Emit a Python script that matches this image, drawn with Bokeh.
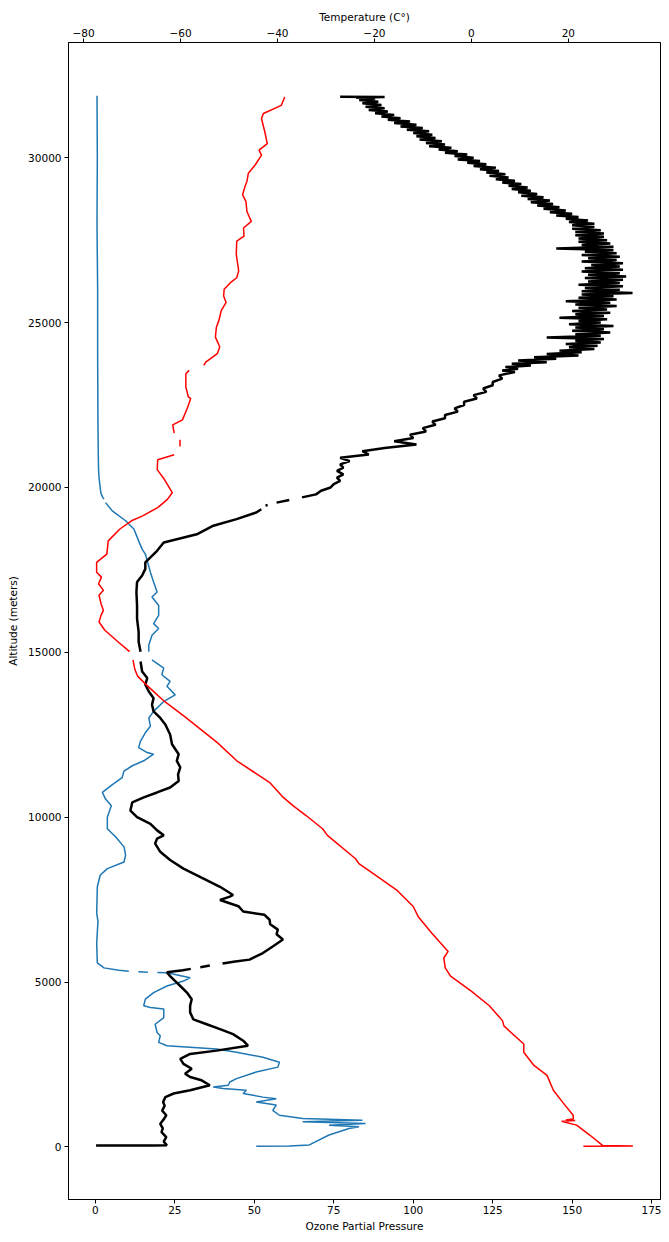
import numpy as np
from bokeh.plotting import figure
from bokeh.models import Range1d, LinearAxis, FixedTicker
from bokeh.embed import file_html
from bokeh.resources import INLINE

nan = float("nan")

# ---------------- Ozone partial pressure (black, bottom axis) ----------------
ozone_alt_low = [
    40, 45, 50, 160, 300, 450, 560, 700, 850, 960,
    1100, 1250, 1360, 1510, 1620, 1720, 1870, 2020, 2120, 2220,
    2370, 2520, 2670, 2820, 2920, 3070, 3220, 3420, 3570, 3720,
    3870, 4080, 4280, 4480, 4680, 4880, 5030, 5180, 5300, 5360,
    5400, 5420, 5450, 5500, 5530, 5560, 5620, 5680, 5880, 6080,
    6290, 6450, 6590, 6750, 6890, 7040, 7140, 7300, 7490, 7590,
    7640, 7890, 8140, 8440, 8700, 8950, 9200, 9350, 9450, 9600,
    9800, 10000, 10200, 10450, 10600, 10750, 10900, 11100, 11300, 11510,
    11710, 11910, 12210, 12510, 12810, 13010, 13210, 13410, 13610, 13810,
    14020, 14220, 14420, 14720, 14850, 15020, 15320, 15620, 16020, 16420,
    16830, 17130, 17330, 17530, 17730, 17880, 18080, 18330, 18430, 18580,
    18840, 19040, 19240, 19340, 19400, 19450, 19470, 19500, 19540, 19620,
    19660, 19700, 19790,
]
ozone_low = [
    0.2, 18.5, 22.5, 21.5, 22.3, 20.8, 21.2, 20.4, 21.6, 22.3,
    21.0, 21.8, 21.3, 22.0, 24.6, 29.8, 36.0, 33.4, 29.8, 28.2,
    30.3, 27.7, 26.7, 29.8, 38.1, 48.0, 46.5, 43.3, 39.2, 35.0,
    30.8, 29.8, 29.8, 30.3, 28.8, 26.7, 25.1, 23.5, 22.5, 27.5,
    30.0, nan, 33.0, 36.0, nan, 40.0, 44.0, 48.5, 52.7, 55.8,
    59.0, 57.0, 57.4, 55.0, 54.8, 53.2, 46.5, 45.0, 39.2, 42.3,
    43.3, 39.2, 34.0, 27.7, 23.5, 20.4, 18.8, 19.4, 21.5, 19.4,
    17.3, 13.1, 11.0, 11.6, 15.2, 19.4, 23.5, 26.2, 26.0, 26.7,
    25.6, 26.2, 24.1, 23.5, 22.0, 20.4, 18.3, 17.8, 18.3, 16.8,
    15.7, 16.3, 14.7, 14.2, nan, 14.2, 13.6, 13.6, 13.1, 13.1,
    12.9, 13.1, 14.7, 15.7, 15.7, 17.3, 19.4, 21.5, 25.6, 31.9,
    37.1, 44.4, 50.6, 52.2, nan, 53.5, 54.2, nan, 57.0, 61.0,
    nan, 65.0, 69.4,
]
ozone_alt_mid = [
    19900, 20000, 20100, 20200, 20300, 20400, 20500, 20600, 20700, 20800,
    20900, 21000, 21100, 21200, 21300, 21400, 21500, 21600, 21700, 21800,
    21900, 22000, 22100, 22200, 22300, 22400, 22500, 22600, 22700, 22800,
    22900, 23000, 23100, 23200, 23300, 23400,
]
ozone_mid = [
    71, 74, 75, 77, 76, 78, 76, 78, 77, 80,
    77, 86, 84, 91, 101, 94, 100, 99, 104, 103,
    107, 106, 110, 110, 114, 113, 116, 116, 120, 119,
    123, 122, 125, 125, 128, 127,
]
ozone_alt_high = [
    23500, 23550, 23600, 23650, 23700, 23750, 23800, 23850, 23900, 23950,
    24000, 24050, 24100, 24150, 24200, 24250, 24300, 24350, 24400, 24450,
    24500, 24550, 24600, 24650, 24700, 24750, 24800, 24850, 24900, 24950,
    25000, 25050, 25100, 25150, 25200, 25250, 25300, 25350, 25400, 25450,
    25500, 25550, 25600, 25650, 25700, 25750, 25800, 25850, 25900, 25950,
    26000, 26050, 26100, 26150, 26200, 26250, 26300, 26350, 26400, 26450,
    26500, 26550, 26600, 26650, 26700, 26750, 26800, 26850, 26900, 26950,
    27000, 27050, 27100, 27150, 27200, 27250, 27300, 27350, 27400, 27450,
    27500, 27550, 27600, 27650, 27700, 27750, 27800, 27850, 27900, 27950,
    28000, 28050, 28100, 28150, 28200, 28250, 28300, 28350, 28400, 28450,
    28500, 28550, 28600, 28650, 28700, 28750, 28800, 28850, 28900, 28950,
    29000, 29050, 29100, 29150, 29200, 29250, 29300, 29350, 29400, 29450,
    29500, 29550, 29600, 29650, 29700, 29750, 29800, 29850, 29900, 29950,
    30000, 30050, 30100, 30150, 30200, 30250, 30300, 30350, 30400, 30450,
    30500, 30550, 30600, 30650, 30700, 30750, 30800, 30850, 30900, 30950,
    31000, 31050, 31100, 31150, 31200, 31250, 31300, 31350, 31400, 31450,
    31500, 31550, 31600, 31650, 31700, 31750, 31800, 31820, 31840, 31850,
]
ozone_high = [
    132, 128, 133, 129, 137, 131, 142, 133, 145, 138,
    152, 142, 153, 146, 157, 149, 158, 148, 159, 151,
    160, 142, 159, 151, 162, 150, 160, 151, 163, 149,
    159, 152, 161, 146, 160, 151, 162, 150, 161, 152,
    164, 151, 162, 148, 164, 152, 163, 153, 169, 153,
    165, 154, 166, 152, 165, 155, 166, 154, 167, 155,
    165, 153, 166, 154, 165, 156, 166, 153, 164, 155,
    165, 153, 164, 154, 163, 145, 163, 153, 162, 152,
    161, 152, 160, 151, 160, 151, 159, 150, 157, 150,
    157, 149, 155, 148, 152, 145, 150, 143, 148, 141,
    146, 139, 144, 137, 143, 136, 141, 134, 139, 133,
    137, 131, 136, 130, 134, 128, 132, 126, 130, 124,
    129, 123, 127, 121, 126, 119, 123, 117, 121, 114,
    119, 113, 117, 110, 114, 108, 112, 105, 110, 104,
    109, 102, 107, 101, 106, 100, 105, 98, 103, 96,
    101, 94, 99, 92, 96, 90, 94, 88, 92, 86,
    91, 85, 90, 84, 89, 83, 88, 82, 91, 77,
]

# ---------------- Humidity (blue, bottom axis) ----------------
humidity_alt = [
    20, 30, 60, 360, 560, 610, 660, 710, 760, 810,
    860, 960, 1110, 1270, 1360, 1460, 1510, 1620, 1720, 1770,
    1820, 1870, 1970, 2070, 2270, 2420, 2570, 2720, 2870, 2970,
    3070, 3170, 3370, 3470, 3720, 3920, 4180, 4230, 4280, 4480,
    4680, 4880, 5030, 5130, 5280, 5290, 5295, 5300, 5310, 5320,
    5330, 5360, 5430, 5580, 6180, 6840, 7090, 7890, 8240, 8440,
    8640, 8850, 9100, 9400, 9650, 10000, 10350, 10550, 10750, 10950,
    11200, 11400, 11560, 11710, 11910, 11960, 12110, 12310, 12560, 12760,
    13010, 13210, 13510, 13710, 13970, 14120, 14320, 14520, 14770, 14900,
    15020, 15220, 15520, 15720, 15870, 16120, 16420, 16680, 16830, 17130,
    17430, 17780, 17980, 18130, 18380, 18740, 18990, 19290, 19540, 19600,
    19650, 19700, 19840, 20240, 20500, 21000, 22000, 24000, 26000, 28000,
    30000, 31880,
]
humidity = [
    50.6, 61.0, 67.3, 73.5, 79.8, 82.9, 73.5, 85.0, 65.2, 84.0,
    65.2, 57.9, 55.8, 56.9, 50.6, 56.9, 52.7, 46.5, 47.5, 40.2,
    37.1, 41.8, 42.3, 44.4, 50.6, 57.4, 57.9, 52.7, 44.4, 38.1,
    22.5, 19.9, 20.4, 19.4, 18.8, 21.5, 21.5, 17.3, 15.2, 15.7,
    18.3, 22.5, 27.7, 29.8, 22.5, 19.5, nan, 16.5, 13.5, nan,
    10.5, 7.4, 2.7, 0.6, 0.4, 0.8, 0.4, 0.6, 1.5, 3.75,
    9.0, 9.5, 9.0, 6.4, 3.75, 3.75, 5.0, 3.2, 2.2, 4.8,
    8.4, 9.0, 11.6, 15.2, 18.3, 16.3, 13.6, 14.2, 15.7, 17.3,
    16.8, 18.3, 21.5, 25.1, 22.5, 23.5, 20.9, 21.5, 17.8, nan,
    16.8, 16.8, 17.8, 19.9, 18.3, 19.9, 19.9, 17.8, 19.4, 18.3,
    17.3, 16.3, 15.7, 14.7, 13.6, 12.1, 9.5, 5.3, 3.2, nan,
    2.7, 2.3, 1.7, 1.2, 1.0, 0.9, 0.8, 0.7, 0.7, 0.5,
    0.6, 0.5,
]

# ---------------- Temperature (red, top axis) ----------------
temp_alt = [
    20, 25, 40, 360, 660, 780, 800, 820, 850, 960,
    1320, 1720, 2170, 2470, 2870, 3120, 3670, 3830, 4280, 4730,
    5180, 5430, 5730, 5930, 6490, 6990, 7290, 7790, 8240, 8590,
    8740, 9450, 9650, 10050, 10350, 10600, 11050, 11710, 12260, 13060,
    13510, 14020, 14270, 14470, 14770, 14900, 15020, 15320, 15670, 15920,
    16120, 16270, 16480, 16730, 16880, 17080, 17280, 17430, 17730, 17980,
    18380, 18740, 18990, 19140, 19390, 19640, 19840, 20240, 20540, 20840,
    20990, 21100, 21240, 21450, 21550, 21650, 21900, 22050, 22400, 22700,
    22750, 23050, 23450, 23550, 23620, 23700, 23800, 24060, 24260, 24560,
    24860, 25060, 25360, 25610, 25810, 26010, 26210, 26360, 26570, 27070,
    27470, 27620, 27870, 28070, 28370, 28670, 28880, 29130, 29280, 29530,
    29780, 30080, 30230, 30430, 30780, 31190, 31340, 31590, 31840,
]
temp_c = [
    23.1, 33.3, 27.1, 24.4, 21.7, 18.6, 21.4, 19.5, 21.0, 21.0,
    19.0, 16.9, 15.6, 12.9, 10.8, 10.8, 6.7, 6.4, 3.7, -0.1,
    -4.3, -5.4, -5.7, -4.8, -8.2, -11.0, -12.0, -15.4, -19.8, -23.2,
    -23.9, -29.7, -30.7, -34.1, -36.8, -38.8, -41.6, -48.4, -52.4, -59.2,
    -63.3, -67.1, -68.8, -69.4, -69.8, nan, -70.5, -72.9, -75.6, -76.8,
    -76.4, -75.9, -76.4, -76.8, -75.9, -76.9, -76.3, -77.3, -77.3, -75.2,
    -74.9, -72.5, -70.1, -67.8, -64.7, -62.7, -61.7, -63.3, -64.8, -64.7,
    -61.3, nan, -60.1, -60.1, nan, -61.3, -61.6, -59.6, -58.6, -57.9,
    -58.4, -58.9, -58.9, -58.2, nan, -55.2, -54.8, -52.4, -51.9, -52.8,
    -52.6, -52.1, -51.6, -50.6, -51.1, -51.0, -49.7, -48.4, -48.0, -48.5,
    -48.4, -46.9, -47.0, -45.4, -46.3, -46.5, -47.2, -46.7, -46.3, -46.0,
    -44.6, -43.3, -43.8, -42.1, -42.6, -43.3, -42.9, -39.2, -38.5,
]

ozone_ticks = [0, 25, 50, 75, 100, 125, 150, 175]
temp_ticks = [-80, -60, -40, -20, 0, 20]
alt_ticks = [0, 5000, 10000, 15000, 20000, 25000, 30000]

ozone_alt = np.array(ozone_alt_low + ozone_alt_mid + ozone_alt_high, dtype=float)
ozone = np.array(ozone_low + ozone_mid + ozone_high, dtype=float)
h_alt = np.array(humidity_alt, dtype=float)
h_val = np.array(humidity, dtype=float)
t_alt = np.array(temp_alt, dtype=float)
t_val = np.array(temp_c, dtype=float)

FONT = "DejaVu Sans"
FS = "10.5px"

p = figure(width=661, height=1234,
           x_range=Range1d(-8.47, 177.8), y_range=Range1d(-1595, 33495),
           output_backend="svg", toolbar_location=None,
           min_border_left=68, min_border_right=1,
           min_border_top=42, min_border_bottom=32,
           x_axis_label="Ozone Partial Pressure",
           y_axis_label="Altitude (meters)")
p.extra_x_ranges = {"temp": Range1d(-83.1, 39.0)}
p.grid.visible = False
p.outline_line_color = "black"
p.outline_line_alpha = 1.0
p.outline_line_width = 1
p.background_fill_color = "white"
p.border_fill_color = "white"

bottom = p.below[0]
left = p.left[0]
bottom.ticker = FixedTicker(ticks=ozone_ticks)
left.ticker = FixedTicker(ticks=alt_ticks)

top = LinearAxis(x_range_name="temp", axis_label="Temperature (C°)",
                 ticker=FixedTicker(ticks=temp_ticks))
top.major_label_overrides = {t: (("\u2212" + str(abs(t))) if t < 0 else str(t)) for t in temp_ticks}
p.add_layout(top, "above")

for ax in (bottom, left, top):
    ax.major_tick_out = 4
    ax.major_tick_in = 0
    ax.minor_tick_out = 0
    ax.minor_tick_in = 0
    ax.axis_line_color = "black"
    ax.major_tick_line_color = "black"
    ax.major_label_text_font = FONT
    ax.major_label_text_font_size = FS
    ax.major_label_text_color = "black"
    ax.axis_label_text_font = FONT
    ax.axis_label_text_font_size = FS
    ax.axis_label_text_font_style = "normal"
    ax.axis_label_text_color = "black"
    ax.major_label_standoff = 2
    ax.axis_label_standoff = 3

left.major_label_standoff = 3
left.axis_label_standoff = 6

p.line(h_val, h_alt, line_color="#1f77b4", line_width=1.5)
p.line(ozone, ozone_alt, line_color="black", line_width=2.5)
p.line(t_val, t_alt, line_color="red", line_width=1.5, x_range_name="temp")

open("out.html", "w").write(file_html(p, INLINE))
